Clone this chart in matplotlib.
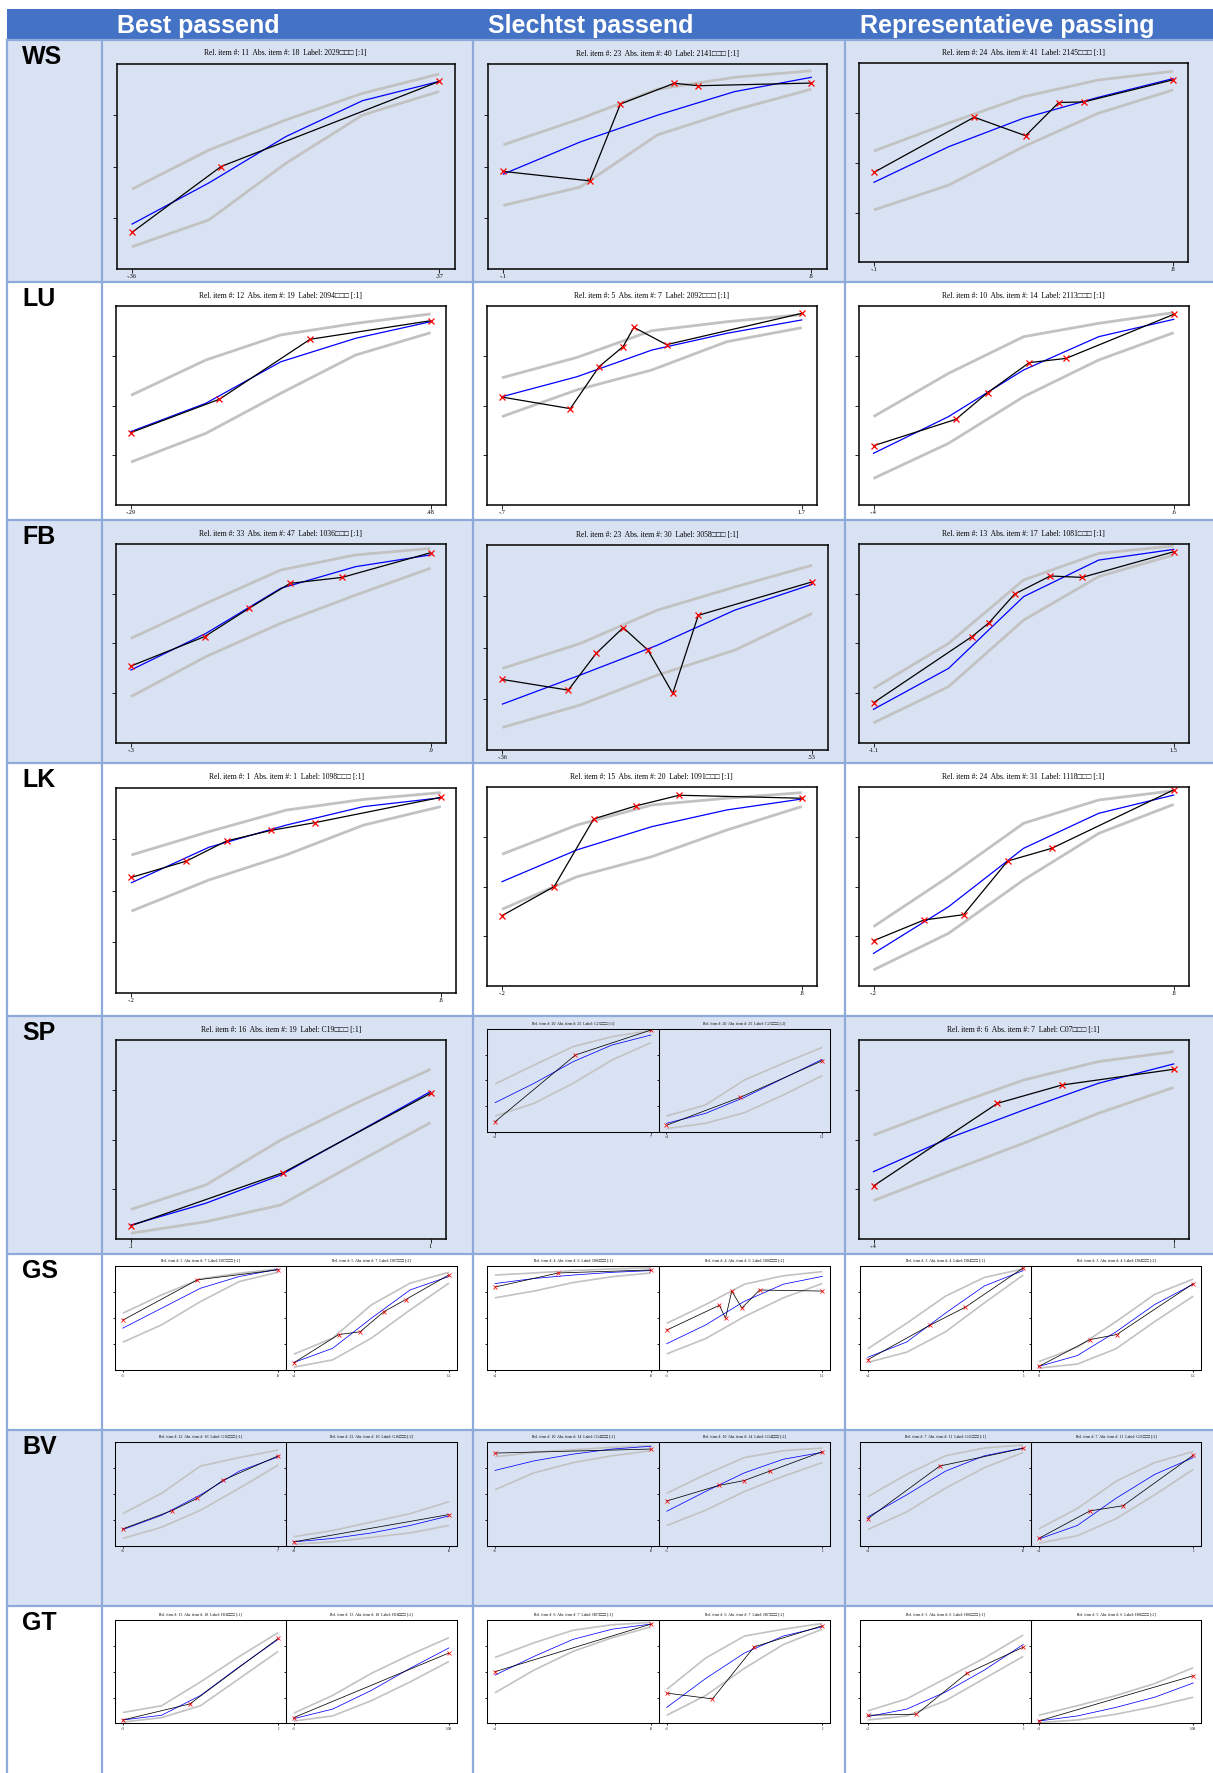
#Item fit overview - observed vs expected curves per scale

import matplotlib
matplotlib.use('Agg')
import matplotlib.pyplot as plt
from matplotlib.patches import Rectangle

W, H = 1213, 1773

header_titles = ["Best passend", "Slechtst passend", "Representatieve passing"]
row_names = ["WS", "LU", "FB", "LK", "SP", "GS", "BV", "GT"]

FIT_T = [0, 0.25, 0.5, 0.75, 1]

BOX = "\u25a1\u25a1\u25a1"

################ DATA ###################
ws_titles = ["Rel. item #: 11  Abs. item #: 18  Label: 2029" + BOX + " [:1]",
             "Rel. item #: 23  Abs. item #: 40  Label: 2141" + BOX + " [:1]",
             "Rel. item #: 24  Abs. item #: 41  Label: 2145" + BOX + " [:1]"]
ws_xlabels = [("-.36", ".37"), ("-.1", ".8"), ("-.1", ".8")]
ws_obs_x = [[0, 0.29, 1], [0, 0.28, 0.38, 0.555, 0.633, 1], [0, 0.335, 0.507, 0.618, 0.702, 1]]
ws_obs_y = [[0.18, 0.50, 0.914], [0.476, 0.43, 0.805, 0.906, 0.894, 0.907],
            [0.452, 0.729, 0.636, 0.803, 0.806, 0.917]]
ws_fit = [[0.22, 0.42, 0.645, 0.82, 0.914], [0.463, 0.62, 0.75, 0.865, 0.935], [0.402, 0.581, 0.724, 0.829, 0.923]]
ws_upper = [[0.39, 0.58, 0.726, 0.856, 0.95], [0.606, 0.733, 0.877, 0.935, 0.967], [0.559, 0.70, 0.832, 0.916, 0.96]]
ws_lower = [[0.11, 0.24, 0.515, 0.75, 0.865], [0.31, 0.40, 0.654, 0.775, 0.877], [0.263, 0.388, 0.581, 0.749, 0.866]]

lu_titles = ["Rel. item #: 12  Abs. item #: 19  Label: 2094" + BOX + " [:1]",
             "Rel. item #: 5  Abs. item #: 7  Label: 2092" + BOX + " [:1]",
             "Rel. item #: 10  Abs. item #: 14  Label: 2113" + BOX + " [:1]"]
lu_xlabels = [("-.29", ".48"), ("-.7", "1.7"), ("-.4", ".6")]
lu_obs_x = [[0, 0.295, 0.598, 1], [0, 0.228, 0.324, 0.404, 0.44, 0.549, 1], [0, 0.274, 0.38, 0.519, 0.641, 1]]
lu_obs_y = [[0.365, 0.532, 0.833, 0.926], [0.543, 0.485, 0.696, 0.796, 0.893, 0.806, 0.963],
            [0.299, 0.431, 0.565, 0.716, 0.737, 0.958]]
lu_fit = [[0.37, 0.512, 0.72, 0.838, 0.921], [0.545, 0.645, 0.779, 0.863, 0.93], [0.261, 0.445, 0.679, 0.846, 0.933]]
lu_upper = [[0.552, 0.729, 0.855, 0.913, 0.96], [0.64, 0.742, 0.876, 0.921, 0.957], [0.445, 0.662, 0.846, 0.913, 0.967]]
lu_lower = [[0.217, 0.361, 0.562, 0.754, 0.866], [0.445, 0.579, 0.679, 0.821, 0.891], [0.135, 0.311, 0.545, 0.729, 0.866]]

fb_titles = ["Rel. item #: 33  Abs. item #: 47  Label: 1036" + BOX + " [:1]",
             "Rel. item #: 23  Abs. item #: 30  Label: 3058" + BOX + " [:1]",
             "Rel. item #: 13  Abs. item #: 17  Label: 1081" + BOX + " [:1]"]
fb_xlabels = [("-.3", ".9"), ("-.36", ".53"), ("-1.1", "1.5")]
fb_obs_x = [[0, 0.246, 0.394, 0.531, 0.705, 1], [0, 0.2125, 0.3025, 0.39, 0.47, 0.55, 0.6325, 1],
            [0, 0.328, 0.385, 0.47, 0.589, 0.695, 1]]
fb_obs_y = [[0.386, 0.534, 0.676, 0.802, 0.832, 0.956], [0.344, 0.292, 0.471, 0.597, 0.487, 0.276, 0.657, 0.82],
            [0.201, 0.534, 0.604, 0.748, 0.839, 0.832, 0.961]]
fb_fit = [[0.366, 0.55, 0.777, 0.886, 0.945], [0.224, 0.365, 0.511, 0.682, 0.808], [0.168, 0.374, 0.735, 0.919, 0.973]]
fb_upper = [[0.525, 0.701, 0.869, 0.945, 0.978], [0.398, 0.519, 0.682, 0.795, 0.901], [0.273, 0.5, 0.819, 0.953, 0.99]]
fb_lower = [[0.232, 0.433, 0.601, 0.743, 0.878], [0.11, 0.219, 0.365, 0.487, 0.666], [0.1, 0.282, 0.617, 0.836, 0.945]]

lk_titles = ["Rel. item #: 1  Abs. item #: 1  Label: 1098" + BOX + " [:1]",
             "Rel. item #: 15  Abs. item #: 20  Label: 1091" + BOX + " [:1]",
             "Rel. item #: 24  Abs. item #: 31  Label: 1118" + BOX + " [:1]"]
lk_xlabels = [("-.2", ".8"), ("-.2", ".8"), ("-.2", ".8")]
lk_obs_x = [[0, 0.1775, 0.3075, 0.45, 0.5925, 1], [0, 0.174, 0.306, 0.446, 0.591, 1], [0, 0.168, 0.3, 0.447, 0.594, 1]]
lk_obs_y = [[0.564, 0.643, 0.741, 0.792, 0.83, 0.953], [0.354, 0.5, 0.841, 0.906, 0.96, 0.945],
            [0.228, 0.332, 0.359, 0.629, 0.693, 0.987]]
lk_fit = [[0.538, 0.71, 0.818, 0.908, 0.951], [0.525, 0.685, 0.802, 0.886, 0.941], [0.164, 0.399, 0.693, 0.869, 0.961]]
lk_upper = [[0.673, 0.786, 0.891, 0.943, 0.976], [0.663, 0.81, 0.911, 0.945, 0.973], [0.299, 0.55, 0.819, 0.936, 0.983]]
lk_lower = [[0.40, 0.551, 0.673, 0.818, 0.908], [0.386, 0.55, 0.651, 0.785, 0.903], [0.081, 0.265, 0.534, 0.768, 0.914]]

sp_titles = ["Rel. item #: 16  Abs. item #: 19  Label: C19" + BOX + " [:1]",
             "Rel. item #: 20  Abs. item #: 25  Label: C25" + BOX + " [:1]",
             "Rel. item #: 20  Abs. item #: 25  Label: C25" + BOX + " [:2]",
             "Rel. item #: 6  Abs. item #: 7  Label: C07" + BOX + " [:1]"]
sp_xlabels = [(".1", "1"), ("-.4", ".7"), ("-.4", "1.1"), ("-.4", "1")]
sp_obs_x = [[0, 0.508, 1], [0, 0.515, 1], [0, 0.473, 1], [0, 0.413, 0.628, 1]]
sp_obs_y = [[0.067, 0.334, 0.733], [0.1, 0.745, 0.987], [0.065, 0.335, 0.69], [0.267, 0.683, 0.775, 0.854]]
sp_fit = [[0.07, 0.18, 0.322, 0.532, 0.742], [0.284, 0.471, 0.68, 0.842, 0.939],
          [0.084, 0.18, 0.335, 0.519, 0.703], [0.339, 0.507, 0.649, 0.784, 0.881]]
sp_upper = [[0.149, 0.272, 0.498, 0.683, 0.854], [0.465, 0.648, 0.826, 0.923, 0.981],
            [0.155, 0.261, 0.503, 0.665, 0.819], [0.523, 0.666, 0.80, 0.893, 0.943]]
sp_lower = [[0.029, 0.087, 0.171, 0.381, 0.586], [0.155, 0.277, 0.471, 0.697, 0.865],
            [0.032, 0.084, 0.187, 0.358, 0.545], [0.193, 0.339, 0.482, 0.633, 0.763]]

gs_titles = ["Rel. item #: 5  Abs. item #: 7  Label: D07" + BOX + " [:1]",
             "Rel. item #: 5  Abs. item #: 7  Label: D07" + BOX + " [:2]",
             "Rel. item #: 4  Abs. item #: 6  Label: D06" + BOX + " [:1]",
             "Rel. item #: 4  Abs. item #: 6  Label: D06" + BOX + " [:2]",
             "Rel. item #: 3  Abs. item #: 4  Label: D04" + BOX + " [:1]",
             "Rel. item #: 3  Abs. item #: 4  Label: D04" + BOX + " [:2]"]
gs_xlabels = [("-.5", ".8"), ("-.4", "1.2"), ("-.4", ".8"), ("-.1", "1.1"), ("-.4", "1"), ("0", "1.2")]
gs_obs_x = [[0, 0.48, 1], [0, 0.29, 0.427, 0.582, 0.721, 1], [0, 0.406, 1],
            [0, 0.338, 0.378, 0.418, 0.483, 0.597, 1], [0, 0.403, 0.627, 1], [0, 0.332, 0.505, 1]]
gs_obs_y = [[0.481, 0.869, 0.965], [0.071, 0.343, 0.369, 0.564, 0.679, 0.917], [0.80, 0.935, 0.964],
            [0.386, 0.624, 0.5, 0.761, 0.598, 0.771, 0.761], [0.101, 0.435, 0.605, 0.984], [0.036, 0.294, 0.343, 0.833]]
gs_fit = [[0.404, 0.596, 0.788, 0.901, 0.971], [0.074, 0.21, 0.5, 0.772, 0.901], [0.833, 0.882, 0.915, 0.941, 0.958],
          [0.255, 0.435, 0.663, 0.827, 0.902], [0.124, 0.271, 0.549, 0.81, 0.958], [0.036, 0.141, 0.369, 0.631, 0.827]]
gs_upper = [[0.548, 0.724, 0.878, 0.933, 0.974], [0.154, 0.308, 0.628, 0.837, 0.942], [0.915, 0.935, 0.958, 0.974, 0.984],
            [0.451, 0.631, 0.827, 0.908, 0.948], [0.206, 0.451, 0.712, 0.892, 0.974], [0.082, 0.222, 0.467, 0.729, 0.876]]
gs_lower = [[0.269, 0.436, 0.66, 0.853, 0.942], [0.029, 0.099, 0.308, 0.58, 0.837], [0.696, 0.761, 0.843, 0.899, 0.935],
            [0.157, 0.304, 0.516, 0.696, 0.833], [0.075, 0.173, 0.369, 0.647, 0.915], [0.02, 0.059, 0.206, 0.467, 0.712]]

bv_titles = ["Rel. item #: 12  Abs. item #: 16  Label: G16" + BOX + " [:1]",
             "Rel. item #: 12  Abs. item #: 16  Label: G16" + BOX + " [:2]",
             "Rel. item #: 10  Abs. item #: 14  Label: G14" + BOX + " [:1]",
             "Rel. item #: 10  Abs. item #: 14  Label: G14" + BOX + " [:2]",
             "Rel. item #: 7  Abs. item #: 11  Label: G11" + BOX + " [:1]",
             "Rel. item #: 7  Abs. item #: 11  Label: G11" + BOX + " [:2]"]
bv_xlabels = [("-.6", ".7"), ("-.8", ".8"), ("-.6", ".8"), ("-.1", "1"), ("-.4", ".8"), ("-.4", "1")]
bv_obs_x = [[0, 0.317, 0.48, 0.644, 1], [0, 1], [0, 1], [0, 0.338, 0.498, 0.662, 1], [0, 0.463, 1], [0, 0.332, 0.545, 1]]
bv_obs_y = [[0.164, 0.341, 0.459, 0.633, 0.869], [0.039, 0.302], [0.895, 0.934],
            [0.433, 0.584, 0.63, 0.721, 0.908], [0.262, 0.77, 0.941], [0.072, 0.338, 0.387, 0.875]]
bv_fit = [[0.157, 0.295, 0.492, 0.721, 0.859], [0.039, 0.072, 0.125, 0.197, 0.289], [0.728, 0.82, 0.885, 0.934, 0.961],
          [0.334, 0.525, 0.705, 0.836, 0.902], [0.279, 0.492, 0.721, 0.869, 0.944], [0.066, 0.197, 0.459, 0.689, 0.852]]
bv_upper = [[0.311, 0.508, 0.77, 0.852, 0.925], [0.089, 0.148, 0.23, 0.311, 0.426], [0.859, 0.902, 0.928, 0.951, 0.967],
            [0.508, 0.689, 0.852, 0.918, 0.944], [0.475, 0.689, 0.869, 0.944, 0.974], [0.164, 0.361, 0.623, 0.803, 0.911]]
bv_lower = [[0.072, 0.18, 0.344, 0.557, 0.78], [0.016, 0.039, 0.082, 0.125, 0.197], [0.541, 0.705, 0.803, 0.869, 0.918],
            [0.197, 0.344, 0.525, 0.672, 0.803], [0.157, 0.328, 0.557, 0.754, 0.902], [0.026, 0.098, 0.262, 0.492, 0.738]]

gt_titles = ["Rel. item #: 13  Abs. item #: 18  Label: H18" + BOX + " [:1]",
             "Rel. item #: 13  Abs. item #: 18  Label: H18" + BOX + " [:2]",
             "Rel. item #: 6  Abs. item #: 7  Label: H07" + BOX + " [:1]",
             "Rel. item #: 6  Abs. item #: 7  Label: H07" + BOX + " [:2]",
             "Rel. item #: 5  Abs. item #: 6  Label: H06" + BOX + " [:1]",
             "Rel. item #: 5  Abs. item #: 6  Label: H06" + BOX + " [:2]"]
gt_xlabels = [("-.3", "1"), ("-.1", "1.08"), ("-.4", ".8"), ("-.1", "1"), ("-.2", "1"), ("-.3", "1.08")]
gt_obs_x = [[0, 0.431, 1], [0, 1], [0, 1], [0, 0.294, 0.562, 1], [0, 0.313, 0.637, 1], [0, 1]]
gt_obs_y = [[0.033, 0.188, 0.822], [0.056, 0.681], [0.5, 0.961], [0.293, 0.237, 0.74, 0.944],
            [0.079, 0.089, 0.484, 0.737], [0.023, 0.461]]
gt_fit = [[0.033, 0.079, 0.27, 0.549, 0.813], [0.046, 0.138, 0.319, 0.533, 0.73], [0.467, 0.648, 0.813, 0.911, 0.961],
          [0.155, 0.434, 0.681, 0.845, 0.934], [0.066, 0.138, 0.303, 0.516, 0.763], [0.023, 0.072, 0.155, 0.253, 0.391]]
gt_upper = [[0.105, 0.171, 0.401, 0.648, 0.878], [0.099, 0.27, 0.484, 0.664, 0.829], [0.638, 0.78, 0.901, 0.954, 0.977],
            [0.329, 0.632, 0.845, 0.911, 0.967], [0.122, 0.237, 0.434, 0.632, 0.855], [0.079, 0.171, 0.27, 0.385, 0.539]]
gt_lower = [[0.013, 0.056, 0.171, 0.434, 0.697], [0.023, 0.072, 0.22, 0.401, 0.599], [0.296, 0.516, 0.697, 0.829, 0.934],
            [0.079, 0.27, 0.533, 0.763, 0.911], [0.033, 0.072, 0.22, 0.434, 0.648], [0.007, 0.033, 0.089, 0.164, 0.253]]

################ LAYOUT (pixels, y from top) ###################
col_lines = [7, 102, 473, 845]
row_tops = [40, 281.5, 519.5, 763, 1015.5, 1254, 1429.5, 1606]
header_x = [117, 488, 860]
row_colors = ['#D9E2F3', 'white']

ws_boxes = [(116.7, 454.6, 63.7, 269.3), (488, 826.7, 64, 269), (859, 1188, 63.3, 262.3)]
lu_boxes = [(116, 445.5, 306, 505.3), (487, 816.7, 306, 505.3), (858.5, 1188.7, 306, 505.3)]
fb_boxes = [(116, 445.5, 544, 742.7), (487, 827.5, 545, 750), (858.5, 1188.7, 544, 742.7)]
lk_boxes = [(116, 456.3, 787.7, 993.3), (487, 816.7, 787.3, 986), (858.5, 1188.7, 787.3, 986)]
sp_boxes = [(116, 445.5, 1040.3, 1239), (487.3, 658.7, 1028.7, 1132), (658.7, 830, 1028.7, 1132),
            (858.5, 1188.7, 1040.3, 1239)]
pair_x = [(115, 286), (286, 456.7), (487.2, 659), (659, 830), (860, 1031), (1031, 1201)]
gs_boxes = [(a, b, 1266.2, 1370.2) for a, b in pair_x]
bv_boxes = [(a, b, 1442.2, 1545.9) for a, b in pair_x]
gt_boxes = [(a, b, 1620, 1723.4) for a, b in pair_x]

SERIF = ['Liberation Serif', 'DejaVu Serif']
SANS = ['Liberation Sans', 'DejaVu Sans']


def draw_plot(fig, box, title, xlab, ox, oy, fit, up, lo, small):
    x0, x1, y0, y1 = box
    ax = fig.add_axes([x0 / W, 1 - y1 / H, (x1 - x0) / W, (y1 - y0) / H])
    ax.patch.set_alpha(0)

    k = 0.6 if small else 1.0
    ax.plot(FIT_T, up, color='#C2C2C2', lw=2.0 * k, solid_capstyle='butt')
    ax.plot(FIT_T, lo, color='#C2C2C2', lw=2.0 * k, solid_capstyle='butt')
    ax.plot(FIT_T, fit, color='#0000FF', lw=0.9 * k)
    ax.plot(ox, oy, color='black', lw=0.9 * k, marker='x', mec='#FF0000',
            ms=4 * k, mew=0.9 * k)

    ax.set_xlim(-0.05, 1.05)
    ax.set_ylim(0, 1)
    ax.set_xticks([0, 1])
    ax.set_xticklabels(list(xlab), fontsize=2.6 if small else 4.5, family=SERIF)
    ax.set_yticks([0.25, 0.5, 0.75])
    ax.set_yticklabels([])
    ax.tick_params(direction='out', length=3 * k, width=0.6, pad=0.6)
    ax.set_title(title, fontsize=2.8 if small else 5.5, family=SERIF,
                 pad=3.2 if small else 6)
    for s in ax.spines.values():
        s.set_linewidth(0.9 * k + 0.2)


def draw_row(fig, boxes, titles, xlabels, obs_x, obs_y, fit, upper, lower, small):
    for i in range(len(boxes)):
        sm = small or (boxes[i][1] - boxes[i][0] < 250)
        draw_plot(fig, boxes[i], titles[i], xlabels[i], obs_x[i], obs_y[i],
                  fit[i], upper[i], lower[i], sm)


fig = plt.figure(figsize=(W / 100, H / 100), dpi=100)
bg = fig.add_axes([0, 0, 1, 1])
bg.set_xlim(0, W)
bg.set_ylim(H, 0)
bg.axis('off')

#table background
bg.add_patch(Rectangle((7, 9), W - 7, 31, color='#4472C4', lw=0))
bottoms = row_tops[1:] + [H]
for i, (t, b) in enumerate(zip(row_tops, bottoms)):
    bg.add_patch(Rectangle((7, t), W - 7, b - t, color=row_colors[i % 2], lw=0))
for t in row_tops:
    bg.plot([7, W], [t, t], color='#8EAADB', lw=1.6)
for x in col_lines:
    bg.plot([x, x], [40, H], color='#8EAADB', lw=1.6)

for x, txt in zip(header_x, header_titles):
    bg.text(x, 33.5, txt, color='white', fontsize=18, fontweight='bold',
            family=SANS, va='baseline', ha='left')
for t, name in zip(row_tops, row_names):
    bg.text(22, t + 24, name, color='black', fontsize=18, fontweight='bold',
            family=SANS, va='baseline', ha='left')

draw_row(fig, ws_boxes, ws_titles, ws_xlabels, ws_obs_x, ws_obs_y, ws_fit, ws_upper, ws_lower, False)
draw_row(fig, lu_boxes, lu_titles, lu_xlabels, lu_obs_x, lu_obs_y, lu_fit, lu_upper, lu_lower, False)
draw_row(fig, fb_boxes, fb_titles, fb_xlabels, fb_obs_x, fb_obs_y, fb_fit, fb_upper, fb_lower, False)
draw_row(fig, lk_boxes, lk_titles, lk_xlabels, lk_obs_x, lk_obs_y, lk_fit, lk_upper, lk_lower, False)
draw_row(fig, sp_boxes, sp_titles, sp_xlabels, sp_obs_x, sp_obs_y, sp_fit, sp_upper, sp_lower, False)
draw_row(fig, gs_boxes, gs_titles, gs_xlabels, gs_obs_x, gs_obs_y, gs_fit, gs_upper, gs_lower, True)
draw_row(fig, bv_boxes, bv_titles, bv_xlabels, bv_obs_x, bv_obs_y, bv_fit, bv_upper, bv_lower, True)
draw_row(fig, gt_boxes, gt_titles, gt_xlabels, gt_obs_x, gt_obs_y, gt_fit, gt_upper, gt_lower, True)

fig.savefig('out.png', dpi=100)
